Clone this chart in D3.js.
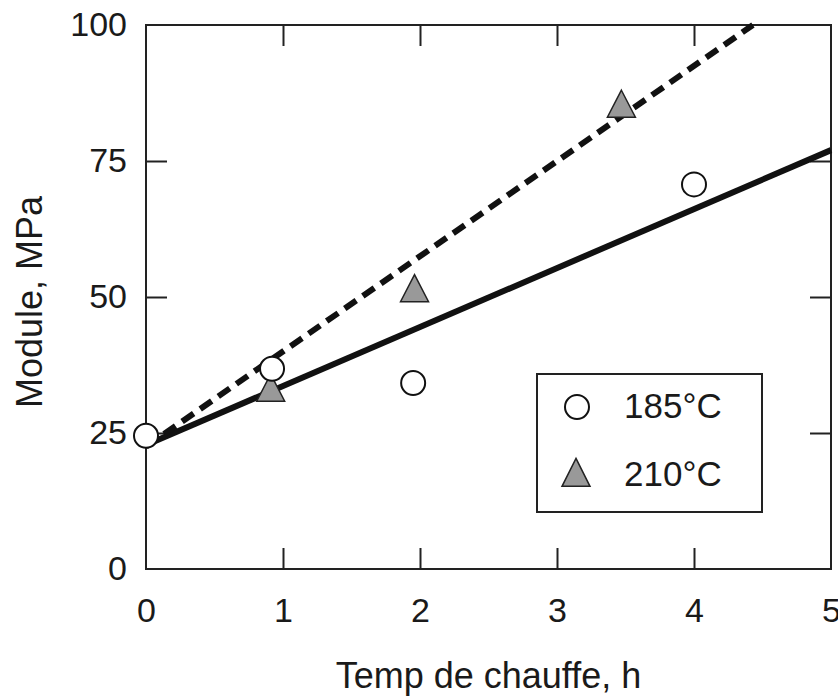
<!DOCTYPE html>
<html>
<head>
<meta charset="utf-8">
<script src="https://cdn.jsdelivr.net/npm/d3@7"></script>
<style>
  body { margin: 0; background: #fff; }
  text { font-family: "Liberation Sans", Arial, sans-serif; fill: #1a1a1a; }
</style>
</head>
<body>
<script>
// Chart size
var svgWidth = 838;
var svgHeight = 698;

var margin = { top: 25, right: 7, bottom: 129, left: 146 };
var chartWidth = svgWidth - margin.left - margin.right;
var chartHeight = svgHeight - margin.top - margin.bottom;

// Data
var xTicks = [0, 1, 2, 3, 4, 5];
var yTicks = [0, 25, 50, 75, 100];

var hours185 = [0, 0.92, 1.95, 4.0];
var module185 = [24.5, 36.8, 34.2, 70.7];

var hours210 = [0.91, 1.96, 3.47];
var module210 = [32.5, 50.8, 84.7];

// fitted lines (end points)
var fit185X = [0, 5];
var fit185Y = [22.8, 77.0];
var fit210X = [0, 4.43];
var fit210Y = [22.5, 100];

var legendLabels = ["185°C", "210°C"];

var svg = d3.select("body")
  .append("svg")
  .attr("width", svgWidth)
  .attr("height", svgHeight);

var chartGroup = svg.append("g")
  .attr("transform", `translate(${margin.left}, ${margin.top})`);

var xScale = d3.scaleLinear().domain([0, 5]).range([0, chartWidth]);
var yScale = d3.scaleLinear().domain([0, 100]).range([chartHeight, 0]);

// axes, ticks pointing inward
var tickLen = 21;
var intFormat = d3.format("d");

var bottomAxis = d3.axisBottom(xScale).tickValues(xTicks).tickFormat(intFormat)
  .tickSize(-tickLen).tickSizeOuter(0).tickPadding(29);
var topAxis = d3.axisTop(xScale).tickValues(xTicks.slice(1, 5))
  .tickSize(-tickLen).tickSizeOuter(0).tickFormat("");
var leftAxis = d3.axisLeft(yScale).tickValues(yTicks).tickFormat(intFormat)
  .tickSize(-tickLen).tickSizeOuter(0).tickPadding(19);
var rightAxis = d3.axisRight(yScale).tickValues(yTicks.slice(1, 4))
  .tickSize(-tickLen).tickSizeOuter(0).tickFormat("");

function styleAxis(g) {
  g.select(".domain").remove();
  g.selectAll(".tick line").attr("stroke", "#222").attr("stroke-width", 2);
  g.selectAll(".tick text")
    .style("font-family", '"Liberation Sans", Arial, sans-serif')
    .style("font-size", "34px")
    .attr("fill", "#1a1a1a");
}

chartGroup.append("g")
  .attr("transform", `translate(0, ${chartHeight})`)
  .call(bottomAxis)
  .call(styleAxis)
  .selectAll(".tick")
  .filter(d => d === 0 || d === 5)
  .select("line").remove();

chartGroup.append("g").call(topAxis).call(styleAxis);

chartGroup.append("g")
  .call(leftAxis)
  .call(styleAxis)
  .selectAll(".tick")
  .filter(d => d === 0 || d === 100)
  .select("line").remove();

chartGroup.append("g")
  .attr("transform", `translate(${chartWidth}, 0)`)
  .call(rightAxis)
  .call(styleAxis);

// frame
chartGroup.append("rect")
  .attr("x", 0).attr("y", 0)
  .attr("width", chartWidth).attr("height", chartHeight)
  .attr("fill", "none")
  .attr("stroke", "#222")
  .attr("stroke-width", 2);

// fitted lines
var drawLine = d3.line()
  .x(d => xScale(d[0]))
  .y(d => yScale(d[1]));

chartGroup.append("path")
  .datum(d3.zip(fit185X, fit185Y))
  .attr("d", drawLine)
  .attr("fill", "none")
  .attr("stroke", "#111")
  .attr("stroke-width", 6);

chartGroup.append("path")
  .datum(d3.zip(fit210X, fit210Y))
  .attr("d", drawLine)
  .attr("fill", "none")
  .attr("stroke", "#111")
  .attr("stroke-width", 6)
  .attr("stroke-dasharray", "14,8");

// triangle marker, centroid at the point
function triangle(cx, cy, w, h) {
  var p = d3.path();
  p.moveTo(cx, cy - h * 2 / 3);
  p.lineTo(cx + w / 2, cy + h / 3);
  p.lineTo(cx - w / 2, cy + h / 3);
  p.closePath();
  return p.toString();
}

chartGroup.selectAll(".tri")
  .data(d3.zip(hours210, module210))
  .enter()
  .append("path")
  .attr("class", "tri")
  .attr("d", d => triangle(xScale(d[0]), yScale(d[1]), 28, 27))
  .attr("fill", "#999")
  .attr("stroke", "#222")
  .attr("stroke-width", 1.5);

chartGroup.selectAll(".circ")
  .data(d3.zip(hours185, module185))
  .enter()
  .append("circle")
  .attr("class", "circ")
  .attr("cx", d => xScale(d[0]))
  .attr("cy", d => yScale(d[1]))
  .attr("r", 12)
  .attr("fill", "#fff")
  .attr("stroke", "#111")
  .attr("stroke-width", 2);

// legend
var legend = svg.append("g").attr("transform", "translate(537, 374)");

legend.append("rect")
  .attr("width", 225).attr("height", 138)
  .attr("fill", "#fff")
  .attr("stroke", "#222")
  .attr("stroke-width", 2);

legend.append("circle")
  .attr("cx", 40).attr("cy", 33).attr("r", 12)
  .attr("fill", "#fff").attr("stroke", "#111").attr("stroke-width", 2);

legend.append("path")
  .attr("d", triangle(39, 103, 28, 28))
  .attr("fill", "#999").attr("stroke", "#222").attr("stroke-width", 1.5);

legend.selectAll(".ltext")
  .data(legendLabels)
  .enter()
  .append("text")
  .attr("x", 87)
  .attr("y", (d, i) => 44 + i * 68)
  .style("font-size", "35px")
  .text(d => d);

// axis titles
svg.append("text")
  .attr("x", margin.left + chartWidth / 2)
  .attr("y", 688)
  .attr("text-anchor", "middle")
  .style("font-size", "36px")
  .text("Temp de chauffe, h");

svg.append("text")
  .attr("transform", `translate(42, ${margin.top + chartHeight / 2 + 5}) rotate(270)`)
  .attr("text-anchor", "middle")
  .style("font-size", "36px")
  .text("Module, MPa");
</script>
</body>
</html>
